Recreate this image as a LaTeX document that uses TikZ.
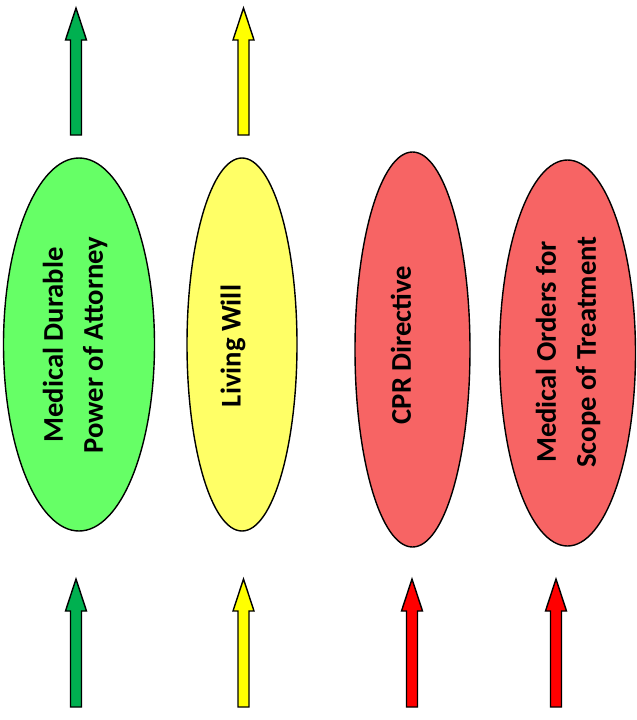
\documentclass[tikz,border=0pt]{standalone}
\usepackage{fontspec}
\setmainfont{Carlito}
\definecolor{ellgreen}{RGB}{102,255,102}
\definecolor{ellyellow}{RGB}{255,255,102}
\definecolor{ellred}{RGB}{247,100,100}
\definecolor{arrgreen}{RGB}{0,176,80}
\definecolor{arryellow}{RGB}{255,255,0}
\definecolor{arrred}{RGB}{255,0,0}
\newcommand{\blockarrow}[5]{% name, color, x, tip y, bottom y
  \draw[blockarr, fill=#2] (#3-5.5,#5) -- (#3-5.5,#4+32) -- (#3-10.5,#4+32) -- coordinate (#1) (#3,#4) -- (#3+10.5,#4+32) -- (#3+5.5,#4+32) -- (#3+5.5,#5) -- cycle;}
\begin{document}
\begin{tikzpicture}[x=1pt,y=-1pt,
  ell/.style={draw=black, line width=1.4pt},
  blockarr/.style={draw=black, line width=1.4pt, line join=miter},
  lbl/.style={rotate=90, align=center, font=\fontsize{28.6}{40}\selectfont\bfseries, inner sep=0pt}]
\useasboundingbox (0,0) rectangle (637,720);
% ellipses
\draw[ell, fill=ellgreen] (79,344.5) ellipse [x radius=75.5, y radius=186.5];
\draw[ell, fill=ellyellow] (242,344.5) ellipse [x radius=55, y radius=186.5];
\draw[ell, fill=ellred] (412.5,349.5) ellipse [x radius=57.5, y radius=197.5];
\draw[ell, fill=ellred] (567.5,353) ellipse [x radius=68, y radius=193];
% labels
\node[lbl] (mdpoa) at (75,345) {Medical Durable\\Power of Attorney};
\node[lbl] (lw) at (233,346) {Living Will};
\node[lbl] (cpr) at (401,345) {CPR Directive};
\node[lbl] (most) at (568,352) {Medical Orders for\\Scope of Treatment};
% arrows
\blockarrow{a1}{arrgreen}{76}{8}{135}
\blockarrow{a2}{arryellow}{243.5}{8}{135}
\blockarrow{a3}{arrgreen}{76}{579}{707}
\blockarrow{a4}{arryellow}{243.5}{579}{707}
\blockarrow{a5}{arrred}{412}{579}{707}
\blockarrow{a6}{arrred}{556}{579}{707}
\end{tikzpicture}
\end{document}
